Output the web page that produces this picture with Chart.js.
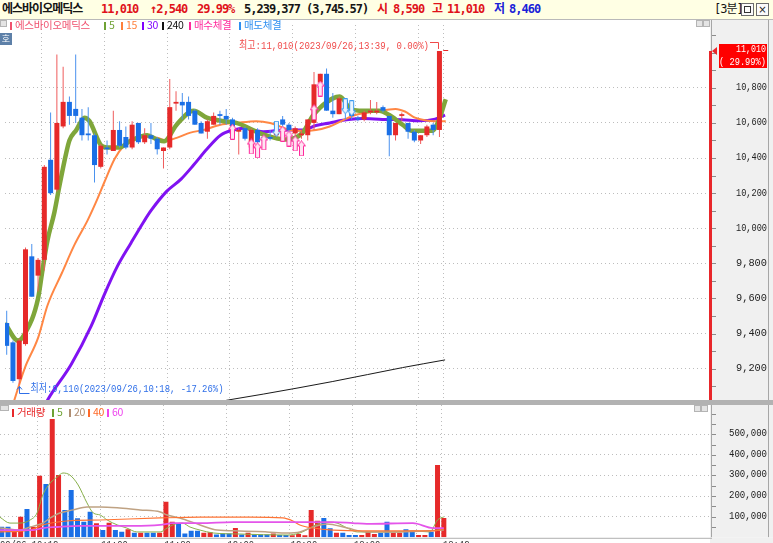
<!DOCTYPE html>
<html lang="ko">
<head>
<meta charset="utf-8">
<title>에스바이오메딕스 3분</title>
<script src="https://cdn.jsdelivr.net/npm/chart.js@4.4.1/dist/chart.umd.min.js"></script>
<style>
  html, body { margin: 0; padding: 0; background: #fff; }
  body { position: relative; width: 773px; height: 543px; overflow: hidden; font-family: 'Noto Sans CJK KR', sans-serif; }
  canvas { position: absolute; left: 0; }
  #priceCv { top: 20px; }
  #volCv { top: 405px; }
  #head { position: absolute; left: 0; top: 0; width: 773px; height: 20px; background: #ffffe4; border-bottom: 1px solid #b9b9b9; box-sizing: border-box; }
  #head span { position: absolute; top: 2px; white-space: nowrap; font: bold 12px/15px 'DejaVu Sans Mono', 'Noto Sans CJK KR', monospace; letter-spacing: -1px; }
  #head .r { color: #e0121a; } #head .b { color: #1a22d8; } #head .k { color: #151515; }
  #head .win { top: 3px; width: 11px; height: 11px; border: 1px solid #6c6c6c; background: #fbfbfb; font: 10px/11px 'DejaVu Sans', sans-serif; text-align: center; letter-spacing: 0; color: #222; }
  #head .win b { display: block; margin: 2px auto 0; width: 5px; height: 5px; border: 1px solid #333; }
  .lg { position: absolute; white-space: nowrap; font: 10.5px/12px 'Noto Sans CJK KR', sans-serif; letter-spacing: -0.3px; }
  .lg i { display: inline-block; width: 2px; height: 8px; margin-right: 3px; vertical-align: -0.5px; }
  .mini { position: absolute; width: 5px; height: 5px; border: 1px solid #b4b4b4; background: #e4e4e4; }
  #ho { position: absolute; left: 0; top: 33px; width: 12px; height: 12px; background: #5d80a8; color: #fff; font: 9px/12px 'Noto Sans CJK KR', sans-serif; text-align: center; }
</style>
</head>
<body>
<div id="head">
  <span class="k" style="left:2px">에스바이오메딕스</span>
  <span class="r" style="left:101px">11,010</span>
  <span class="r" style="left:150px">↑2,540</span>
  <span class="r" style="left:197px">29.99%</span>
  <span class="k" style="left:244px">5,239,377</span>
  <span class="k" style="left:306px">(3,745.57)</span>
  <span class="r" style="left:377px">시</span>
  <span class="r" style="left:393px">8,590</span>
  <span class="r" style="left:432px">고</span>
  <span class="r" style="left:447px">11,010</span>
  <span class="b" style="left:494px">저</span>
  <span class="b" style="left:509px">8,460</span>
  <span class="k" style="left:714px;font-weight:normal">[3분]</span>
  <span class="win" style="left:741px"><b></b></span>
  <span class="win" style="left:756px">×</span>
</div>

<canvas id="priceCv" width="773" height="385"></canvas>
<canvas id="volCv" width="773" height="138"></canvas>

<div class="mini" style="left:0;top:20px"></div>
<div id="ho">호</div>
<div class="mini" style="left:696px;top:20px"></div>
<div class="mini" style="left:703px;top:20px"></div>
<div class="mini" style="left:0;top:405px;width:7px;height:4px"></div>
<div class="mini" style="left:694px;top:405px"></div>
<div class="mini" style="left:701px;top:405px"></div>

<span class="lg" style="left:10px;top:19px;color:#f0506e"><i style="background:#f0506e"></i>에스바이오메딕스</span>
<span class="lg" style="left:104px;top:19px;color:#6fa234"><i style="background:#6fa234"></i>5</span>
<span class="lg" style="left:121px;top:19px;color:#ff7f3a"><i style="background:#ff7f3a"></i>15</span>
<span class="lg" style="left:142px;top:19px;color:#8000ff"><i style="background:#8000ff"></i>30</span>
<span class="lg" style="left:162px;top:19px;color:#111"><i style="background:#111"></i>240</span>
<span class="lg" style="left:189px;top:19px;color:#ff2a9c"><i style="background:#ff2a9c"></i>매수체결</span>
<span class="lg" style="left:239px;top:19px;color:#2e8ff0"><i style="background:#2e8ff0"></i>매도체결</span>

<span class="lg" style="left:12px;top:406px;color:#e8282a"><i style="background:#e8282a"></i>거래량</span>
<span class="lg" style="left:52px;top:406px;color:#6fa234"><i style="background:#6fa234"></i>5</span>
<span class="lg" style="left:69px;top:406px;color:#b08e72"><i style="background:#b08e72"></i>20</span>
<span class="lg" style="left:88px;top:406px;color:#ff6a28"><i style="background:#ff6a28"></i>40</span>
<span class="lg" style="left:107px;top:406px;color:#ee44ee"><i style="background:#ee44ee"></i>60</span>

<script>
'use strict';

// 3분봉 2023/09/26, index 0 = 10:12 ... index 70 = 13:42
const opens = [9460, 9350, 9140, 9340, 9840, 9730, 9820, 10390, 10220, 10580,
  10720, 10680, 10630, 10540, 10530, 10350, 10460, 10440, 10560, 10520,
  10460, 10600, 10490, 10530, 10510, 10440, 10460, 10710, 10720, 10720,
  10670, 10600, 10550, 10590, 10650, 10640, 10620, 10550, 10570, 10460,
  10560, 10520, 10520, 10530, 10620, 10590, 10540, 10530, 10530, 10600,
  10830, 10880, 10670, 10650, 10730, 10670, 10630, 10620, 10660, 10660,
  10690, 10640, 10530, 10640, 10600, 10550, 10500, 10530, 10590, 10560,
  11010];
const highs = [9530, 9360, 9370, 9890, 9910, 9830, 10360, 10660, 10990, 10920,
  10750, 10990, 10680, 10690, 10540, 10480, 10500, 10670, 10610, 10580,
  10610, 10600, 10570, 10600, 10520, 10460, 10850, 10780, 10770, 10750,
  10680, 10610, 10620, 10660, 10670, 10680, 10630, 10570, 10580, 10570,
  10570, 10530, 10560, 10570, 10640, 10600, 10580, 10560, 10620, 10890,
  10880, 10910, 10770, 10750, 10740, 10700, 10640, 10670, 10730, 10720,
  10700, 10640, 10600, 10660, 10600, 10560, 10530, 10590, 10600, 11010,
  11010];
const lows = [9280, 9120, 9110, 9330, 9610, 9640, 9760, 10190, 10210, 10570,
  10590, 10600, 10500, 10500, 10260, 10340, 10420, 10440, 10460, 10450,
  10450, 10480, 10480, 10480, 10420, 10340, 10450, 10670, 10620, 10620,
  10590, 10540, 10510, 10590, 10590, 10590, 10570, 10420, 10500, 10450,
  10480, 10490, 10500, 10520, 10580, 10550, 10530, 10510, 10500, 10560,
  10830, 10670, 10630, 10650, 10620, 10620, 10610, 10610, 10650, 10650,
  10660, 10410, 10500, 10610, 10510, 10490, 10480, 10520, 10530, 10520,
  11010];
const closes = [9330, 9130, 9360, 9880, 9610, 9820, 10350, 10200, 10600, 10720,
  10640, 10640, 10530, 10530, 10360, 10470, 10450, 10560, 10470, 10460,
  10590, 10490, 10530, 10510, 10450, 10460, 10690, 10720, 10700, 10640,
  10590, 10540, 10610, 10640, 10640, 10620, 10580, 10560, 10510, 10560,
  10490, 10500, 10510, 10550, 10590, 10560, 10570, 10540, 10620, 10820,
  10880, 10670, 10650, 10740, 10670, 10640, 10620, 10660, 10670, 10670,
  10670, 10530, 10600, 10650, 10550, 10500, 10530, 10580, 10560, 11010,
  11010];
const volumes = [51000, 51000, 27000, 100000, 137000, 51000, 299000, 259000, 574000, 302000,
  133000, 230000, 92000, 76000, 124000, 68000, 35000, 71000, 35000, 27000,
  39000, 22000, 22000, 22000, 22000, 22000, 173000, 76000, 68000, 19000,
  32000, 32000, 22000, 25000, 13000, 19000, 19000, 45000, 13000, 22000,
  14000, 14000, 13000, 19000, 11000, 11000, 10000, 16000, 10000, 133000,
  80000, 94000, 44000, 22000, 22000, 11000, 11000, 11000, 27000, 16000,
  22000, 76000, 22000, 22000, 39000, 27000, 11000, 11000, 27000, 351000,
  94000];

// 이동평균선: [봉 위치, 값]
const ma5 = [[-0.3, 9460], [1.8, 9360], [2.9, 9400], [5.0, 9600], [5.7, 9760], [6.5, 9930],
  [7.6, 10090], [8.4, 10240], [9.5, 10430], [10.0, 10500], [11.1, 10560], [12.4, 10630],
  [13.2, 10610], [15.1, 10470], [16.0, 10460], [17.9, 10460], [19.8, 10500], [22.4, 10530],
  [24.0, 10505], [25.1, 10495], [27.1, 10590], [29.8, 10670], [31.9, 10630], [34.6, 10610],
  [36.6, 10600], [40.9, 10535], [44.5, 10505], [47.2, 10545], [48.8, 10640], [49.9, 10685],
  [52.0, 10740], [53.1, 10750], [54.7, 10685], [56.2, 10670], [59.4, 10670], [61.0, 10645],
  [63.1, 10590], [64.6, 10555], [67.8, 10555], [68.9, 10615], [70.0, 10735]];
const ma15 = [[0.5, 8930], [1.3, 9030], [2.9, 9205], [5.0, 9375], [6.5, 9560], [8.8, 9745],
  [10.8, 9905], [12.9, 10045], [14.5, 10170], [15.6, 10265], [17.2, 10395], [18.7, 10470],
  [20.3, 10505], [21.9, 10520], [24.0, 10515], [25.5, 10500], [27.1, 10515], [29.3, 10545],
  [31.4, 10560], [34.1, 10590], [36.6, 10600], [39.8, 10610], [42.0, 10600], [45.2, 10560],
  [47.2, 10555], [49.3, 10560], [51.5, 10580], [53.6, 10615], [55.6, 10645], [58.8, 10665],
  [62.0, 10680], [63.5, 10665], [65.1, 10630], [66.7, 10615], [68.3, 10610], [70.0, 10610]];
const ma30 = [[5.8, 8970], [6.5, 9020], [10.3, 9225], [13.5, 9445], [15.6, 9625], [17.6, 9780],
  [19.8, 9915], [21.9, 10040], [23.0, 10100], [25.5, 10210], [27.8, 10280], [29.8, 10360],
  [31.9, 10450], [34.1, 10530], [36.2, 10560], [37.7, 10570], [39.8, 10555], [40.9, 10550],
  [44.5, 10560], [47.2, 10560], [49.3, 10585], [51.5, 10600], [53.6, 10615], [56.7, 10625],
  [59.9, 10620], [63.1, 10618], [65.8, 10612], [68.3, 10622], [69.9, 10645]];
const ma240 = [[31.4, 8995], [35.4, 9022], [40.9, 9055], [52.0, 9127], [63.1, 9206], [69.9, 9250]];

const volMa5 = [[-0.3, 98000], [1.3, 69000], [2.9, 69000], [4.5, 84000], [5.6, 118000], [6.5, 205000],
  [7.7, 264000], [8.8, 293000], [9.7, 312000], [10.8, 302000], [12.1, 254000], [13.5, 167000],
  [14.5, 118000], [15.6, 108000], [16.7, 84000], [18.3, 60000], [19.8, 45000], [21.4, 26000],
  [25.1, 26000], [26.2, 45000], [27.1, 60000], [28.6, 69000], [29.8, 50000], [31.4, 35000],
  [33.5, 21000], [37.7, 16000], [45.2, 11000], [47.2, 21000], [48.8, 45000], [50.4, 69000],
  [52.0, 74000], [53.1, 69000], [54.7, 45000], [56.3, 26000], [62.6, 26000], [65.1, 31000],
  [67.8, 26000], [69.0, 84000], [70.0, 99000]];
const volMa20 = [[-0.3, 45000], [2.9, 35000], [4.5, 50000], [6.5, 69000], [7.7, 94000], [9.2, 118000],
  [11.3, 133000], [13.5, 147000], [15.6, 147000], [18.7, 142000], [21.9, 133000], [25.1, 123000],
  [26.2, 108000], [28.2, 94000], [31.4, 60000], [34.1, 35000], [37.7, 31000], [42.0, 26000],
  [45.2, 21000], [47.2, 26000], [49.3, 50000], [51.5, 65000], [54.7, 45000], [57.8, 26000],
  [63.1, 26000], [70.0, 35000]];
const volMa40 = [[-0.3, 26000], [4.5, 35000], [6.5, 60000], [10.3, 79000], [15.6, 84000], [25.1, 94000],
  [31.4, 98000], [39.3, 98000], [44.5, 94000], [46.1, 79000], [47.2, 60000], [49.3, 45000],
  [52.5, 35000], [57.8, 31000], [68.3, 31000], [70.0, 40000]];
const volMa60 = [[-0.3, 35000], [5.0, 35000], [6.5, 45000], [8.8, 50000], [12.4, 55000], [20.8, 55000],
  [25.1, 60000], [27.1, 69000], [31.4, 69000], [36.6, 74000], [52.5, 74000], [55.6, 69000],
  [57.8, 65000], [65.1, 69000], [68.3, 45000], [70.0, 45000]];

// 체결 표시
const buyIdx = [36, 39, 40, 41, 44, 45, 46, 47, 49, 50];
const buyPrice = [10550, 10466, 10444, 10489, 10539, 10511, 10483, 10455, 10661, 10796];
const sellIdx = [43, 54, 55];
const sellPrice = [10567, 10695, 10684];

const priceTicks = [9200, 9400, 9600, 9800, 10000, 10200, 10400, 10600, 10800];
const volTicks = [100000, 200000, 300000, 400000, 500000];
const gridIdx = [5.6, 15.6, 25.6, 35.6, 45.6, 55.6, 65.6, 69.7];
const timeLabels = ['09/26 10:12', '11:00', '11:30', '12:00', '12:30', '13:00', '13:42'];
const timeLabelIdx = [null, 15.6, 25.6, 35.6, 45.6, 55.6, 69.7];

const lastPrice = 11010;
const lastPct = '( 29.99%)';
const hiMark = { idx: 69, price: 11010, text: '최고:11,010(2023/09/26,13:39, 0.00%)' };
const loMark = { idx: 2, price: 9110, text: '최저:9,110(2023/09/26,10:18, -17.26%)' };

const X_MIN = -0.27, X_MAX = 112.14;
const P_MIN = 9021.5, P_MAX = 11158;
const V_MAX = 642000;

const UP = '#e62a2a', DOWN = '#1a6fe6';
const UP_WICK = '#ef5c5c', DOWN_WICK = '#4b92ee';
const GRID = '#bdbdbd', PANEL = '#f0f0f0', AXIS_TXT = '#222';
const MONO = "'Liberation Mono', 'DejaVu Sans Mono', 'Noto Sans CJK KR', monospace";

const fmt = v => v.toLocaleString('en-US');
const idx = opens.map((_, i) => i);
const isUp = idx.map(i => closes[i] >= opens[i]);
const pts = list => list.map(([x, y]) => ({ x, y }));

function maLine(label, list, color, width, order) {
  return {
    type: 'line', label, data: pts(list), borderColor: color, borderWidth: width,
    pointRadius: 0, fill: false, cubicInterpolationMode: 'monotone', order
  };
}

function makeArrow(down, stroke, fill) {
  const c = document.createElement('canvas');
  c.width = 9; c.height = 16;
  const g = c.getContext('2d');
  if (down) { g.translate(0, 16); g.scale(1, -1); }
  g.beginPath();
  g.moveTo(4.5, 0.5); g.lineTo(8.5, 5.5); g.lineTo(6.5, 5.5); g.lineTo(6.5, 15.5);
  g.lineTo(2.5, 15.5); g.lineTo(2.5, 5.5); g.lineTo(0.5, 5.5); g.closePath();
  g.fillStyle = fill; g.fill();
  g.strokeStyle = stroke; g.lineWidth = 1; g.stroke();
  return c;
}

function rightPanel(chart) {
  const { ctx, chartArea: a, width } = chart;
  ctx.fillStyle = PANEL;
  ctx.fillRect(a.right, 0, width - a.right, a.bottom);
  ctx.strokeStyle = '#a6a6a6'; ctx.lineWidth = 1;
  ctx.beginPath(); ctx.moveTo(a.right + 1.5, 0); ctx.lineTo(a.right + 1.5, a.bottom); ctx.stroke();
  ctx.beginPath(); ctx.moveTo(768.5, 0); ctx.lineTo(768.5, a.bottom); ctx.stroke();
}

function minorTicks(chart, from, to, step) {
  const { ctx, chartArea: a, scales: { y } } = chart;
  ctx.strokeStyle = '#8c8c8c'; ctx.lineWidth = 1;
  for (let v = from; v <= to; v += step) {
    const py = Math.round(y.getPixelForValue(v)) + 0.5;
    if (py < a.top || py > a.bottom) continue;
    ctx.beginPath(); ctx.moveTo(a.right + 2, py); ctx.lineTo(a.right + 6, py); ctx.stroke();
  }
}

const priceDecor = {
  id: 'priceDecor',
  beforeDraw(chart) {
    const { ctx, width, height } = chart;
    ctx.save();
    ctx.fillStyle = '#fff';
    ctx.fillRect(0, 0, width, height);
    ctx.restore();
  },
  afterDatasetsDraw(chart) {
    const { ctx, scales: { x, y } } = chart;
    ctx.save();
    ctx.font = '11px ' + MONO;
    ctx.lineWidth = 1;
    ctx.textBaseline = 'middle';

    const hx = Math.round(x.getPixelForValue(hiMark.idx));
    const hy = y.getPixelForValue(hiMark.price);
    const hl = Math.round(hy - 9) + 0.5;
    ctx.fillStyle = ctx.strokeStyle = '#f04a4a';
    ctx.textAlign = 'right';
    ctx.fillText(hiMark.text, hx - 10, hy - 5, 190);
    ctx.beginPath();
    ctx.moveTo(hx - 9, hl); ctx.lineTo(hx - 0.5, hl); ctx.lineTo(hx - 0.5, hy - 2);
    ctx.stroke();

    const lx = Math.round(x.getPixelForValue(loMark.idx)) + 0.5;
    const ly = y.getPixelForValue(loMark.price);
    const ll = Math.round(ly + 9) + 0.5;
    ctx.fillStyle = ctx.strokeStyle = '#2f6fe8';
    ctx.textAlign = 'left';
    ctx.fillText(loMark.text, lx + 11, ly + 4.5, 193);
    ctx.beginPath();
    ctx.moveTo(lx, ly + 2); ctx.lineTo(lx, ll); ctx.lineTo(lx + 10, ll);
    ctx.moveTo(lx - 2.5, ly + 5); ctx.lineTo(lx, ly + 2); ctx.lineTo(lx + 2.5, ly + 5);
    ctx.stroke();
    ctx.restore();
  },
  afterDraw(chart) {
    const { ctx, chartArea: a, width, height, scales: { y } } = chart;
    ctx.save();
    rightPanel(chart);
    minorTicks(chart, 9100, 11100, 100);

    ctx.font = '11px ' + MONO;
    ctx.fillStyle = AXIS_TXT;
    ctx.textAlign = 'right';
    ctx.textBaseline = 'middle';
    priceTicks.forEach(v => ctx.fillText(fmt(v), 767, y.getPixelForValue(v) - 0.5, 31));

    // 현재가 표시
    const cy = y.getPixelForValue(lastPrice);
    ctx.fillStyle = '#e8262a';
    ctx.fillRect(a.right - 1, cy, 3, a.bottom - cy);
    ctx.beginPath();
    ctx.moveTo(a.right + 2, cy); ctx.lineTo(a.right + 7, cy - 4); ctx.lineTo(a.right + 7, cy + 4);
    ctx.closePath(); ctx.fill();
    ctx.fillStyle = '#ff0000';
    ctx.fillRect(719, Math.round(cy - 7), 48, 24);
    ctx.fillStyle = '#fff';
    ctx.fillText(fmt(lastPrice), 766, cy - 2, 30);
    ctx.fillText(lastPct, 766, cy + 11, 47);

    ctx.fillStyle = '#b2b2b2';
    ctx.fillRect(0, a.bottom, width, height - a.bottom);
    ctx.restore();
  }
};

const volDecor = {
  id: 'volDecor',
  beforeDraw(chart) {
    const { ctx, width, height } = chart;
    ctx.save();
    ctx.fillStyle = '#fff';
    ctx.fillRect(0, 0, width, height);
    ctx.restore();
  },
  afterDraw(chart) {
    const { ctx, chartArea: a, width, height, scales: { x, y } } = chart;
    ctx.save();
    rightPanel(chart);
    ctx.fillStyle = PANEL;
    ctx.fillRect(a.right, a.bottom, width - a.right, height - a.bottom);
    minorTicks(chart, 50000, 600000, 50000);

    ctx.font = '11px ' + MONO;
    ctx.fillStyle = AXIS_TXT;
    ctx.textAlign = 'right';
    ctx.textBaseline = 'middle';
    volTicks.forEach(v => ctx.fillText(fmt(v), 767, y.getPixelForValue(v) - 1, 38));

    ctx.strokeStyle = '#b0b0b0';
    ctx.beginPath(); ctx.moveTo(0, a.bottom + 1); ctx.lineTo(a.right + 2, a.bottom + 1); ctx.stroke();

    ctx.fillStyle = '#333';
    ctx.textAlign = 'left';
    ctx.textBaseline = 'top';
    timeLabels.forEach((t, k) => {
      const px = timeLabelIdx[k] === null ? a.left : x.getPixelForValue(timeLabelIdx[k]) + 1;
      ctx.fillText(t, px, a.bottom + 2.2, t.length * 5.3);
    });
    ctx.restore();
  }
};

function xScale() {
  return {
    type: 'linear', min: X_MIN, max: X_MAX, offset: false, bounds: 'data',
    ticks: { display: false },
    grid: { color: GRID, drawTicks: false, offset: false },
    border: { display: false, dash: [1, 3] },
    afterBuildTicks: s => { s.ticks = gridIdx.map(v => ({ value: v })); }
  };
}

function yScale(min, max, ticks) {
  return {
    type: 'linear', position: 'right', min, max, bounds: 'data', beginAtZero: false,
    ticks: { display: false },
    grid: { color: GRID, drawTicks: false },
    border: { display: false, dash: [1, 3] },
    afterBuildTicks: s => { s.ticks = ticks.map(v => ({ value: v })); },
    afterFit: s => { s.width = 63; }
  };
}

const baseOptions = {
  responsive: false,
  animation: false,
  devicePixelRatio: 1,
  events: [],
  plugins: { legend: { display: false }, tooltip: { enabled: false } }
};

new Chart(document.getElementById('priceCv'), {
  type: 'bar',
  data: {
    datasets: [
      {
        type: 'bar', label: '꼬리', order: 2,
        data: idx.map(i => ({ x: i, y: [lows[i], highs[i]] })),
        backgroundColor: idx.map(i => isUp[i] ? UP_WICK : DOWN_WICK),
        barThickness: 1, grouped: false, inflateAmount: 0
      },
      {
        type: 'bar', label: '에스바이오메딕스', order: 1,
        data: idx.map(i => ({ x: i, y: [opens[i], closes[i]] })),
        backgroundColor: idx.map(i => isUp[i] ? UP : DOWN),
        barThickness: 5, minBarLength: 1, grouped: false, inflateAmount: 0
      },
      maLine('5', ma5, '#7fa63a', 4.5, 3),
      maLine('15', ma15, '#ff8744', 2, 4),
      maLine('30', ma30, '#8012f2', 3, 5),
      maLine('240', ma240, '#1a1a1a', 1, 6),
      {
        type: 'line', label: '매수체결', order: 0, showLine: false,
        data: buyIdx.map((v, k) => ({ x: v, y: buyPrice[k] })),
        pointStyle: makeArrow(false, '#ff2a9c', '#ffe4f2'), pointRadius: 4
      },
      {
        type: 'line', label: '매도체결', order: 0, showLine: false,
        data: sellIdx.map((v, k) => ({ x: v, y: sellPrice[k] })),
        pointStyle: makeArrow(true, '#3a9af0', '#eaf4ff'), pointRadius: 4
      }
    ]
  },
  options: Object.assign({}, baseOptions, {
    layout: { padding: { top: 0, right: 0, left: 0, bottom: 2 } },
    scales: { x: xScale(), y: yScale(P_MIN, P_MAX, priceTicks) }
  }),
  plugins: [priceDecor]
});

new Chart(document.getElementById('volCv'), {
  type: 'bar',
  data: {
    datasets: [
      {
        type: 'bar', label: '거래량', order: 5,
        data: idx.map(i => ({ x: i, y: volumes[i] })),
        backgroundColor: idx.map(i => isUp[i] ? UP : DOWN),
        barThickness: 5, grouped: false, inflateAmount: 0
      },
      maLine('5', volMa5, '#88b04b', 1, 4),
      maLine('20', volMa20, '#bfa283', 1.5, 3),
      maLine('40', volMa40, '#ff7434', 1.2, 2),
      maLine('60', volMa60, '#e455ea', 1.8, 1)
    ]
  },
  options: Object.assign({}, baseOptions, {
    layout: { padding: { top: 0, right: 0, left: 0, bottom: 5.7 } },
    scales: { x: xScale(), y: yScale(0, V_MAX, volTicks) }
  }),
  plugins: [volDecor]
});
</script>
</body>
</html>
